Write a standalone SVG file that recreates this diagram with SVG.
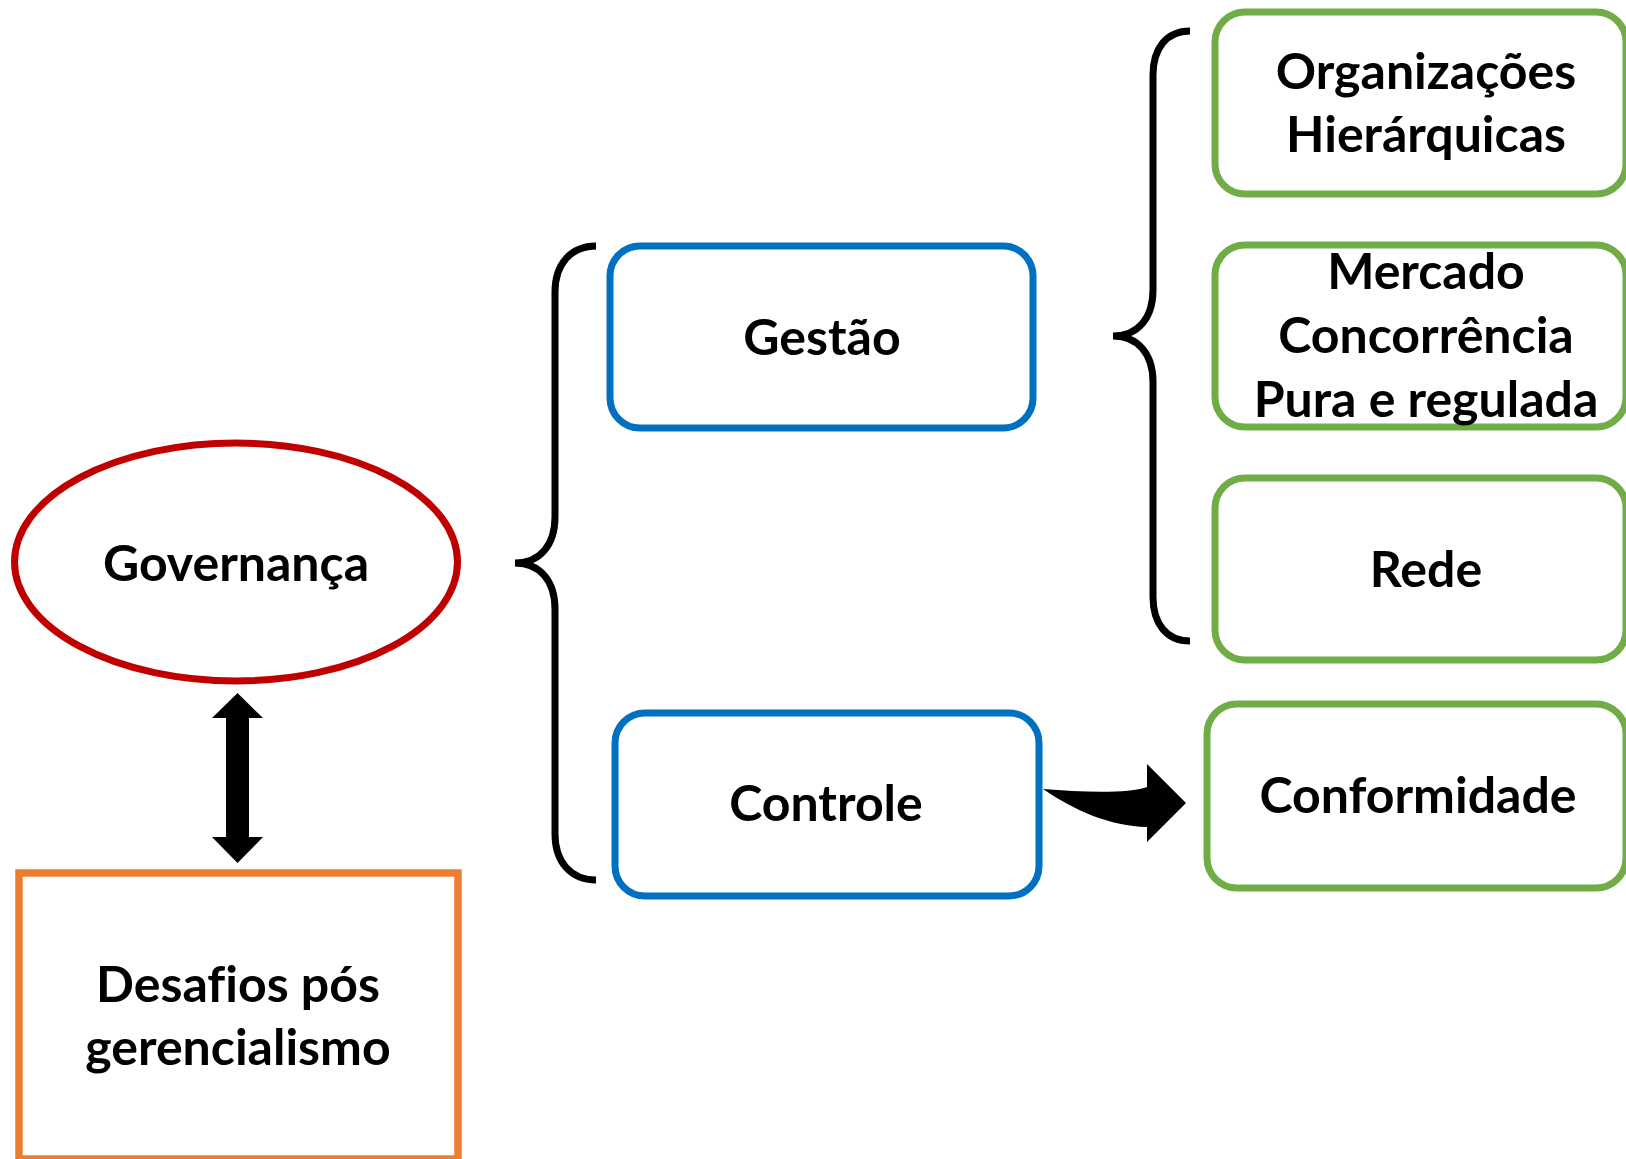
<svg xmlns="http://www.w3.org/2000/svg" width="1626" height="1159" viewBox="0 0 1626 1159">
  <style>
    .lbl { font-family: Lato, "Liberation Sans", sans-serif; font-weight: 700; font-size: 50px; fill: #000; text-anchor: middle; font-variant-ligatures: none; }
    .blue { fill: #fff; stroke: #0070C0; stroke-width: 7; }
    .green { fill: #fff; stroke: #70AD47; stroke-width: 7; }
    .brace { fill: none; stroke: #000; stroke-width: 7; stroke-linecap: butt; }
  </style>
  <rect width="1626" height="1159" fill="#fff"/>

  <!-- connectors: braces and arrows -->
  <g id="connectors">
    <path class="brace" d="M596,246 C571,246 555,264 555,292 L555,517 C555,545 540,563 515,563 C540,563 555,581 555,609 L555,834 C555,862 571,880 596,880"/>
    <path class="brace" d="M1190,31 C1166,31 1153,49 1153,75 L1153,290 C1153,318 1138,336 1113,336 C1138,336 1153,354 1153,382 L1153,597 C1153,623 1166,641 1190,641"/>
    <polygon fill="#000" points="237.5,693 263,718 249,718 249,837 263,837 237.5,863 212,837 226,837 226,718 212,718"/>
    <path fill="#000" d="M1043,789 C1080,792 1128,794 1147,787 L1147,764 L1186,803 L1147,842 L1147,827 C1110,826 1075,811 1043,789 Z"/>
  </g>

  <g id="governanca">
    <ellipse cx="236" cy="562" rx="221.5" ry="119" fill="#fff" stroke="#C00000" stroke-width="7"/>
    <text class="lbl" x="236" y="581">Governança</text>
  </g>

  <g id="desafios">
    <rect x="19" y="873" width="439" height="286" fill="#fff" stroke="#ED7D31" stroke-width="7.5"/>
    <text class="lbl" x="238" y="1002">Desafios pós</text>
    <text class="lbl" x="238" y="1065">gerencialismo</text>
  </g>

  <g id="gestao">
    <rect class="blue" x="610" y="246" width="423" height="182" rx="30"/>
    <text class="lbl" x="822" y="355">Gestão</text>
  </g>

  <g id="controle">
    <rect class="blue" x="615" y="713" width="424" height="183" rx="30"/>
    <text class="lbl" x="826" y="821">Controle</text>
  </g>

  <g id="hierarquicas">
    <rect class="green" x="1215" y="12" width="411" height="182" rx="30"/>
    <text class="lbl" x="1426" y="89">Organizações</text>
    <text class="lbl" x="1426" y="152">Hierárquicas</text>
  </g>

  <g id="mercado">
    <rect class="green" x="1215" y="245" width="411" height="182" rx="30"/>
    <text class="lbl" x="1426" y="289">Mercado</text>
    <text class="lbl" x="1426" y="353">Concorrência</text>
    <text class="lbl" x="1426" y="417">Pura e regulada</text>
  </g>

  <g id="rede">
    <rect class="green" x="1215" y="478" width="411" height="182" rx="30"/>
    <text class="lbl" x="1426" y="587">Rede</text>
  </g>

  <g id="conformidade">
    <rect class="green" x="1207" y="704" width="419" height="184" rx="30"/>
    <text class="lbl" x="1418" y="813">Conformidade</text>
  </g>
</svg>
